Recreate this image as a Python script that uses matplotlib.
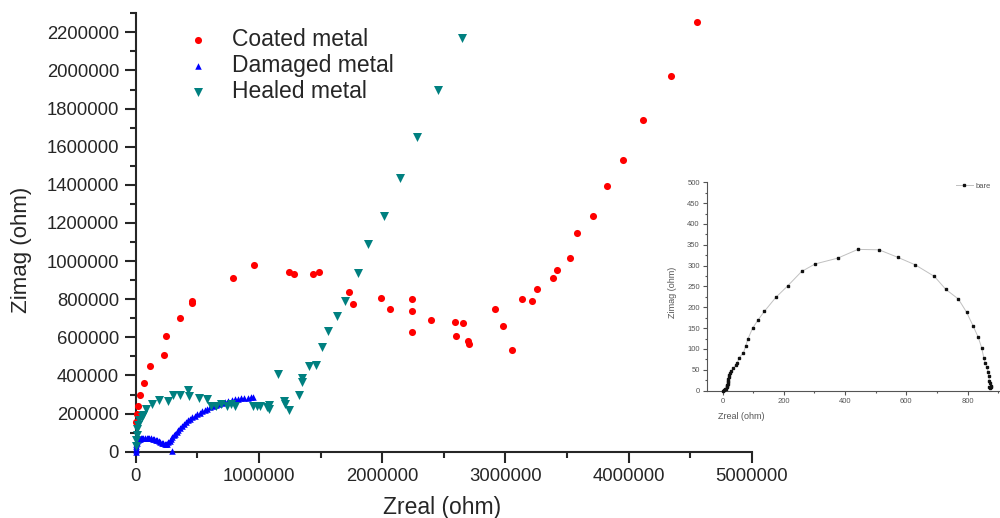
import matplotlib
matplotlib.use("Agg")
import matplotlib.pyplot as plt
from matplotlib.ticker import MultipleLocator, FuncFormatter
from matplotlib.lines import Line2D

plt.rcParams['font.family'] = ['Liberation Sans', 'DejaVu Sans']

# Nyquist data (values in ohm)
coated_re = [3e3, 8e3, 19e3, 38e3, 66e3, 117e3, 230e3, 248e3, 360e3, 455e3, 455e3,
             792e3, 960e3, 1242e3, 1285e3, 1442e3, 1490e3, 1734e3, 1761e3, 1989e3,
             2062e3, 2240e3, 2243e3, 2245e3, 2397e3, 2592e3, 2659e3, 2597e3, 2700e3,
             2708e3, 2919e3, 2984e3, 3052e3, 3136e3, 3217e3, 3260e3, 3385e3, 3417e3,
             3523e3, 3585e3, 3709e3, 3826e3, 3958e3, 4120e3, 4343e3, 4553e3]
coated_im = [157e3, 197e3, 238e3, 299e3, 361e3, 450e3, 507e3, 607e3, 701e3, 778e3, 792e3,
             912e3, 979e3, 944e3, 932e3, 932e3, 944e3, 839e3, 773e3, 804e3,
             748e3, 799e3, 736e3, 629e3, 692e3, 680e3, 675e3, 605e3, 580e3,
             563e3, 750e3, 661e3, 533e3, 801e3, 789e3, 855e3, 912e3, 951e3,
             1014e3, 1145e3, 1236e3, 1392e3, 1531e3, 1741e3, 1969e3, 2257e3]

damaged_re = [0, 1e3, 2e3, 4e3, 6e3, 9e3, 13e3, 18e3, 25e3, 33e3, 42e3, 52e3, 63e3, 75e3,
              88e3, 100e3, 112e3, 125e3, 138e3, 150e3, 162e3, 175e3, 188e3, 200e3, 212e3,
              224e3, 236e3, 248e3, 258e3, 266e3, 275e3, 285e3, 296e3, 308e3, 320e3, 333e3,
              347e3, 361e3, 376e3, 392e3, 408e3, 425e3, 442e3, 460e3, 479e3, 498e3, 518e3,
              539e3, 560e3, 582e3, 605e3, 628e3, 652e3, 676e3, 701e3, 726e3, 752e3, 778e3,
              804e3, 830e3, 856e3, 882e3, 908e3, 933e3, 955e3, 292e3]
damaged_im = [0, 10e3, 20e3, 30e3, 40e3, 48e3, 55e3, 61e3, 66e3, 69e3, 71e3, 73e3, 74e3, 74e3,
              73e3, 72e3, 71e3, 70e3, 68e3, 66e3, 63e3, 59e3, 55e3, 51e3, 47e3,
              44e3, 41e3, 40e3, 43e3, 49e3, 57e3, 66e3, 75e3, 85e3, 95e3, 105e3,
              115e3, 125e3, 135e3, 145e3, 155e3, 164e3, 173e3, 181e3, 189e3, 197e3, 205e3,
              212e3, 219e3, 226e3, 233e3, 240e3, 246e3, 252e3, 257e3, 262e3, 266e3, 270e3,
              274e3, 277e3, 280e3, 282e3, 284e3, 286e3, 288e3, 5e3]

healed_re = [3e3, 5e3, 8e3, 12e3, 20e3, 30e3, 49e3, 60e3, 85e3, 130e3, 192e3, 260e3, 300e3,
             360e3, 425e3, 432e3, 517e3, 580e3, 610e3, 650e3, 690e3, 740e3, 775e3, 806e3,
             955e3, 985e3, 1005e3, 1063e3, 1085e3, 1085e3, 1155e3, 1204e3, 1212e3, 1242e3,
             1328e3, 1347e3, 1352e3, 1409e3, 1464e3, 1512e3, 1563e3, 1637e3, 1699e3,
             1807e3, 1888e3, 2015e3, 2148e3, 2286e3, 2456e3, 2651e3]
healed_im = [30e3, 60e3, 90e3, 120e3, 140e3, 165e3, 180e3, 195e3, 222e3, 250e3, 273e3, 266e3,
             299e3, 299e3, 322e3, 290e3, 280e3, 276e3, 238e3, 240e3, 250e3, 242e3, 250e3,
             240e3, 241e3, 240e3, 241e3, 233e3, 246e3, 222e3, 406e3, 267e3, 249e3, 217e3,
             296e3, 385e3, 367e3, 448e3, 455e3, 547e3, 631e3, 710e3, 792e3,
             935e3, 1088e3, 1238e3, 1437e3, 1652e3, 1900e3, 2168e3]

# Bare metal (inset)
bare_re = [2, 6, 9, 11, 13, 14, 15, 16, 17, 18, 19, 20, 22, 25, 29, 35, 44, 48, 54, 68, 75,
           82, 98, 116, 136, 174, 212, 258, 302, 376, 442, 511, 572, 629, 692, 729, 770, 797,
           819, 835, 846, 853, 858, 863, 867, 870, 871, 873, 875, 877, 874, 870]
bare_im = [0, 1, 3, 5, 8, 11, 14, 17, 20, 24, 28, 32, 37, 42, 47, 54, 62, 67, 79, 91, 106,
           123, 150, 170, 190, 224, 251, 286, 304, 318, 339, 338, 320, 302, 274, 243, 220, 188,
           154, 128, 103, 79, 66, 56, 46, 35, 24, 18, 12, 9, 7, 10]

INK = '#262626'

fig = plt.figure(figsize=(10, 5.18), dpi=100)
ax = fig.add_axes([0.1357, 0.1280, 0.616, 0.8463])

ax.scatter(coated_re, coated_im, s=26, marker='o', color='#ff0000', lw=0,
           clip_on=False, zorder=3, label='Coated metal')
ax.scatter(damaged_re, damaged_im, s=22, marker='^', color='#0000ff', lw=0,
           clip_on=False, zorder=3, label='Damaged metal')
ax.scatter(healed_re, healed_im, s=42, marker='v', color='#008080', lw=0,
           clip_on=False, zorder=3, label='Healed metal')

ax.set_xlim(0, 5e6)
ax.set_ylim(0, 2.3e6)
ax.xaxis.set_major_locator(MultipleLocator(1e6))
ax.xaxis.set_minor_locator(MultipleLocator(5e5))
ax.yaxis.set_major_locator(MultipleLocator(2e5))
ax.yaxis.set_minor_locator(MultipleLocator(1e5))
fmt = FuncFormatter(lambda v, p: f"{int(round(v))}")
ax.xaxis.set_major_formatter(fmt)
ax.yaxis.set_major_formatter(fmt)
ax.set_yticks([t * 2e5 for t in range(12)])

for s in ('top', 'right'):
    ax.spines[s].set_visible(False)
for s in ('left', 'bottom'):
    ax.spines[s].set_linewidth(1.5)
    ax.spines[s].set_color(INK)

ax.tick_params(which='major', direction='out', length=8, width=1.5, color=INK,
               labelsize=13.3, labelcolor=INK, pad=4)
ax.tick_params(which='minor', direction='out', length=4.5, width=1.5, color=INK)

ax.set_xlabel('Zreal (ohm)', fontsize=16.5, color=INK)
ax.set_ylabel('Zimag (ohm)', fontsize=16, color=INK)
ax.xaxis.set_label_coords(0.498, -0.102)
ax.yaxis.set_label_coords(-0.168, 0.46)

ax.legend(loc='upper left', bbox_to_anchor=(0.086, 0.967), frameon=False,
          fontsize=16.5, handlelength=0.8, handletextpad=1.1, labelspacing=0.14,
          borderpad=0, borderaxespad=0, scatterpoints=1, labelcolor=INK)

# Inset: bare metal
GRAY = '#555555'
ins = fig.add_axes([0.7067, 0.2458, 0.2933, 0.4023])
ins.plot(bare_re, bare_im, color='#c0c0c0', lw=0.7, marker='s', ms=1.7,
         mfc='#111111', mec='#111111', clip_on=False, zorder=3)
ins.set_xlim(-52, 906)
ins.set_ylim(0, 500)
ins.xaxis.set_major_locator(MultipleLocator(200))
ins.xaxis.set_minor_locator(MultipleLocator(100))
ins.yaxis.set_major_locator(MultipleLocator(50))
ins.yaxis.set_minor_locator(MultipleLocator(25))
for s in ('top', 'right'):
    ins.spines[s].set_visible(False)
for s in ('left', 'bottom'):
    ins.spines[s].set_linewidth(0.8)
    ins.spines[s].set_color(GRAY)
ins.tick_params(which='major', direction='out', length=3, width=0.8, color=GRAY,
                labelsize=5.5, labelcolor=GRAY, pad=2)
ins.tick_params(which='minor', direction='out', length=1.5, width=0.8, color=GRAY)
ins.set_ylabel('Zimag (ohm)', fontsize=6.5, color=GRAY)
ins.yaxis.set_label_coords(-0.1, 0.47)
ins.set_xlabel('Zreal (ohm)', fontsize=6.5, color=GRAY)
ins.xaxis.set_label_coords(0.117, -0.1)
ins.patch.set_alpha(0)

bare_handle = Line2D([], [], color='#c0c0c0', lw=0.7, marker='s', ms=1.7,
                     mfc='#111111', mec='#111111')
ins.legend([bare_handle], ['bare'], loc='upper left', bbox_to_anchor=(0.85, 1.0),
           frameon=False, fontsize=5.5, handlelength=2.2, handletextpad=0.4,
           borderpad=0, borderaxespad=0, labelcolor=GRAY)

fig.savefig('out.png', dpi=100)
